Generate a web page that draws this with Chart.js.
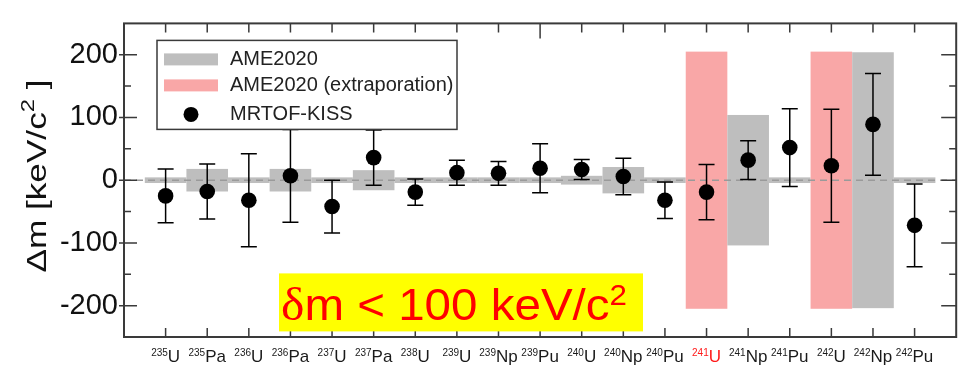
<!DOCTYPE html>
<html>
<head>
<meta charset="utf-8">
<script src="https://cdn.jsdelivr.net/npm/chart.js@4"></script>
<style>
  html, body { margin: 0; padding: 0; background: #fff; overflow: hidden; }
  #wrap { width: 964px; height: 381px; position: relative; }
</style>
</head>
<body>
<div id="wrap"><canvas id="chart"></canvas></div>
<script>
// nuclides along the x axis (x value = index + 1)
const massNumbers = ['235', '235', '236', '236', '237', '237', '238', '239', '239', '239',
                     '240', '240', '240', '241', '241', '241', '242', '242', '242'];
const elements = ['U', 'Pa', 'U', 'Pa', 'U', 'Pa', 'U', 'U', 'Np', 'Pu',
                  'U', 'Np', 'Pu', 'U', 'Np', 'Pu', 'U', 'Np', 'Pu'];
const highlighted = ['241U'];

// MRTOF-KISS: delta m and its error [keV/c2]
const mrtofValues = [-25, -18, -32, 7, -42, 36, -19, 12, 11, 19, 17, 6, -32, -19, 32, 52, 23, 89, -72];
const mrtofErrors = [43, 44, 74, 74, 42, 44, 21, 20, 19, 39, 16, 29, 29, 44, 31, 62, 90, 81, 66];

// AME2020 uncertainties [keV/c2], and which ones are extrapolated
const ameErrors = [4.5, 18, 4.5, 18, 4.5, 16, 4.5, 4.5, 4.5, 4.5, 7, 21, 4.5, 205, 104, 4.5, 205, 204, 4.5];
const ameExtrapolated = [false, false, false, false, false, false, false, false, false, false,
                         false, false, false, true, false, false, true, false, false];

const yTicks = [-200, -100, 0, 100, 200];

const SANS = '"Liberation Sans", Arial, Helvetica, sans-serif';
const GRAY = '#bebebe';
const PINK = '#f9a7a7';
const FRAME = '#3a3a3a';

// draws text pieces in a row, optionally stretched to a target width
function drawRich(ctx, parts, x, y, width, align) {
    let natural = 0;
    parts.forEach(p => {
        ctx.font = p.font;
        p.w = ctx.measureText(p.text).width;
        natural += p.w;
    });
    const s = width ? width / natural : 1;
    const total = natural * s;
    const start = align === 'center' ? x - total / 2 : (align === 'right' ? x - total : x);
    ctx.save();
    ctx.translate(start, y);
    ctx.scale(s, 1);
    ctx.textAlign = 'left';
    ctx.textBaseline = 'alphabetic';
    let cx = 0;
    parts.forEach(p => {
        ctx.font = p.font;
        ctx.fillText(p.text, cx, p.dy || 0);
        cx += p.w;
    });
    ctx.restore();
}

const bandsPlugin = {
    id: 'bands',
    beforeDatasetsDraw(chart) {
        const { ctx, chartArea: a, scales: { x, y } } = chart;
        ctx.save();
        ctx.beginPath();
        ctx.rect(a.left, a.top, a.right - a.left, a.bottom - a.top);
        ctx.clip();

        // AME2020 boxes
        ameErrors.forEach((e, i) => {
            const l = x.getPixelForValue(i + 0.5);
            const r = x.getPixelForValue(i + 1.5);
            const t = y.getPixelForValue(e);
            const b = y.getPixelForValue(-e);
            ctx.fillStyle = ameExtrapolated[i] ? PINK : GRAY;
            ctx.fillRect(l, t, r - l, b - t);
        });

        // zero line
        const y0 = y.getPixelForValue(0);
        ctx.strokeStyle = '#9a9a9a';
        ctx.lineWidth = 1.5;
        ctx.setLineDash([7, 5]);
        ctx.beginPath();
        ctx.moveTo(a.left, y0);
        ctx.lineTo(a.right, y0);
        ctx.stroke();
        ctx.setLineDash([]);

        // error bars
        ctx.strokeStyle = '#000';
        ctx.lineWidth = 1.5;
        mrtofValues.forEach((v, i) => {
            const px = x.getPixelForValue(i + 1);
            const hi = y.getPixelForValue(v + mrtofErrors[i]);
            const lo = y.getPixelForValue(v - mrtofErrors[i]);
            ctx.beginPath();
            ctx.moveTo(px, hi); ctx.lineTo(px, lo);
            ctx.moveTo(px - 8, hi); ctx.lineTo(px + 8, hi);
            ctx.moveTo(px - 8, lo); ctx.lineTo(px + 8, lo);
            ctx.stroke();
        });
        ctx.restore();
    }
};

const decorPlugin = {
    id: 'decor',
    afterDraw(chart) {
        const { ctx, chartArea: a, scales: { x, y } } = chart;
        ctx.save();

        // frame
        ctx.strokeStyle = FRAME;
        ctx.lineWidth = 2;
        ctx.strokeRect(a.left, a.top, a.right - a.left, a.bottom - a.top);

        // y ticks, both sides, inward
        ctx.lineWidth = 1.5;
        ctx.beginPath();
        for (let v = -200; v <= 200; v += 50) {
            const major = v % 100 === 0;
            const py = y.getPixelForValue(v);
            ctx.moveTo(a.left - (major ? 5 : 0), py);
            ctx.lineTo(a.left + (major ? 13 : 7), py);
            ctx.moveTo(a.right, py);
            ctx.lineTo(a.right - (major ? 15 : 7), py);
        }
        // x ticks, top and bottom
        for (let xv = 1; xv <= massNumbers.length; xv++) {
            const len = xv % 10 === 0 ? 15 : 9;
            const px = x.getPixelForValue(xv);
            ctx.moveTo(px, a.bottom); ctx.lineTo(px, a.bottom - len);
            ctx.moveTo(px, a.top); ctx.lineTo(px, a.top + len);
        }
        ctx.stroke();

        // x labels: superscript mass number + element, centred under the tick
        massNumbers.forEach((m, i) => {
            const px = x.getPixelForValue(i + 1);
            ctx.fillStyle = highlighted.includes(m + elements[i]) ? '#ff1a1a' : '#1a1a1a';
            drawRich(ctx, [
                { text: m, font: '10px ' + SANS, dy: -6 },
                { text: elements[i], font: '17px ' + SANS }
            ], px, a.bottom + 25, 0, 'center');
        });

        // y axis title
        ctx.save();
        ctx.translate(46, 176);
        ctx.rotate(-Math.PI / 2);
        ctx.fillStyle = '#111';
        drawRich(ctx, [
            { text: '\u0394m [keV/c', font: '28px ' + SANS },
            { text: '2', font: '19px ' + SANS, dy: -12 },
            { text: ' ]', font: '28px ' + SANS }
        ], 0, 0, 193, 'center');
        ctx.restore();

        // legend
        const lx = a.left + 33, ly = a.top + 17;
        ctx.fillStyle = '#fff';
        ctx.fillRect(lx, ly, 300, 89);
        ctx.strokeStyle = FRAME;
        ctx.lineWidth = 1.5;
        ctx.strokeRect(lx, ly, 300, 89);
        ctx.fillStyle = GRAY;
        ctx.fillRect(lx + 7, ly + 13, 54, 12);
        ctx.fillStyle = PINK;
        ctx.fillRect(lx + 7, ly + 39, 54, 12);
        ctx.fillStyle = '#000';
        ctx.beginPath();
        ctx.arc(lx + 34, ly + 74, 7.5, 0, Math.PI * 2);
        ctx.fill();
        ctx.fillStyle = '#222';
        ctx.font = '20px ' + SANS;
        ctx.textAlign = 'left';
        ctx.textBaseline = 'middle';
        ctx.fillText('AME2020', lx + 73, ly + 19);
        ctx.fillText('AME2020 (extraporation)', lx + 73, ly + 45);
        ctx.fillText('MRTOF-KISS', lx + 73, ly + 74);

        // resolution note
        const bx = a.left + 155, by = a.top + 250;
        ctx.fillStyle = '#ffff00';
        ctx.fillRect(bx, by, 364, 58);
        ctx.fillStyle = '#ff0000';
        drawRich(ctx, [
            { text: '\u03b4', font: '46px "Liberation Serif", "Times New Roman", serif' },
            { text: 'm < 100 keV/c', font: '44px ' + SANS },
            { text: '2', font: '29px ' + SANS, dy: -15 }
        ], bx + 2, by + 47, 346, 'left');

        ctx.restore();
    }
};

new Chart(document.getElementById('chart'), {
    type: 'scatter',
    data: {
        datasets: [{
            label: 'MRTOF-KISS',
            data: mrtofValues.map((v, i) => ({ x: i + 1, y: v })),
            pointRadius: 7.8,
            pointBackgroundColor: '#000',
            pointBorderWidth: 0,
            clip: false
        }]
    },
    options: {
        responsive: true,
        maintainAspectRatio: false,
        animation: false,
        events: [],
        layout: { padding: { top: 8, left: 0, right: 0, bottom: 0 } },
        plugins: { legend: { display: false }, tooltip: { enabled: false } },
        scales: {
            x: {
                type: 'linear',
                min: 0,
                max: 20,
                ticks: { display: false },
                grid: { display: false },
                border: { display: false },
                afterFit: s => { s.height = 44; }
            },
            y: {
                min: -250,
                max: 250,
                afterBuildTicks: s => { s.ticks = yTicks.map(v => ({ value: v })); },
                ticks: {
                    padding: 6,
                    color: '#111',
                    font: { family: SANS, size: 29 }
                },
                grid: { display: false, drawTicks: false },
                border: { display: false },
                afterFit: s => { s.width = 124; }
            }
        }
    },
    plugins: [bandsPlugin, decorPlugin]
});
</script>
</body>
</html>
